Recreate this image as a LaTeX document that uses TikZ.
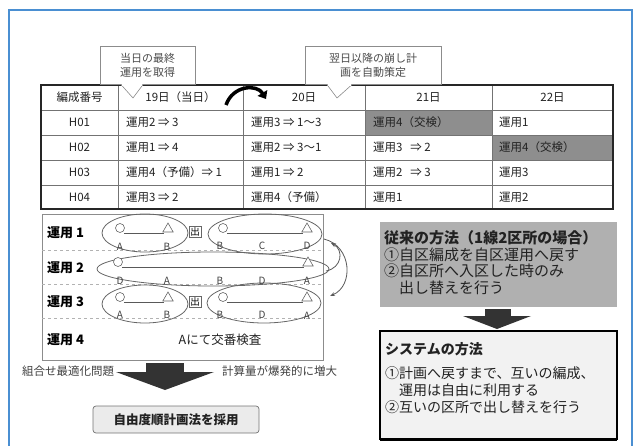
\documentclass[tikz,border=0pt]{standalone}
\usepackage{fontspec}
\setmainfont{Noto Sans CJK JP}
\usetikzlibrary{arrows.meta,shapes.geometric}
\newcommand{\myfs}[1]{\fontsize{#1}{#1}\selectfont}
\definecolor{framebl}{HTML}{4A8FD2}
\definecolor{cellgray}{HTML}{8E8E8E}
\definecolor{boxgray}{HTML}{B0B0B0}
\definecolor{txt}{HTML}{222222}
\begin{document}
\begin{tikzpicture}[x=1pt,y=-1pt,
  celltxt/.style={anchor=west, inner sep=0pt, font=\myfs{11.5}, text=txt},
  headtxt/.style={inner sep=0pt, font=\myfs{11.5}, text=txt},
  rowlbl/.style={anchor=west, inner sep=0pt, font=\bfseries\myfs{13}},
  stn/.style={inner sep=0pt, font=\myfs{10}, text=black!75},
  oval/.style={draw=black!60, line width=0.8pt},
  circsym/.style={circle, draw=black!60, line width=0.6pt, fill=white, minimum size=9pt, inner sep=0pt},
  trisym/.style={regular polygon, regular polygon sides=3, draw=black!60, line width=0.6pt, fill=white, minimum size=12pt, inner sep=0pt},
  rline/.style={draw=black!65, line width=1pt},
  callout/.style={draw=black!45, fill=white, line width=0.6pt},
  calltxt/.style={inner sep=0pt, align=center, font=\myfs{11}, text=black!70},
  blockarrow/.style={fill=black!80},
  rtxt/.style={anchor=west, inner sep=0pt, font=\myfs{14}, text=txt},
  gtxt/.style={anchor=west, inner sep=0pt, font=\myfs{15}, text=txt},
  sidetxt/.style={inner sep=0pt, font=\myfs{11.5}, text=black!75},
  swap/.style={draw=black!60, inner sep=1pt, font=\myfs{9.5}, fill=white},
  curv/.style={draw=black!65, line width=0.8pt, -{Stealth[length=5pt,width=4pt]}}
]
\useasboundingbox (0,0) rectangle (637,446);
% outer frame
\draw[framebl, line width=1.5pt] (9,446) -- (9,10) -- (632,10) -- (632,446);

% ---------- table ----------
\fill[cellgray] (365,110) rectangle (492,135);
\fill[cellgray] (492,135) rectangle (613,160);
\foreach \yy in {110,135,160,185} \draw[black!55, line width=0.6pt] (41,\yy) -- (613,\yy);
\foreach \xx in {118,243,365,492} \draw[black!55, line width=0.6pt] (\xx,85) -- (\xx,209);
\draw[black!85, line width=1.3pt] (41,85) rectangle (613,209);

\node[headtxt] (h0) at (79.5,97.5) {編成番号};
\node[headtxt] (h1) at (180.5,97.5) {19日（当日）};
\node[headtxt] (h2) at (304,97.5) {20日};
\node[headtxt] (h3) at (428.5,97.5) {21日};
\node[headtxt] (h4) at (552.5,97.5) {22日};

\node[headtxt] (r1) at (79.5,122.5) {H01};
\node[headtxt] (r2) at (79.5,147.5) {H02};
\node[headtxt] (r3) at (79.5,172.5) {H03};
\node[headtxt] (r4) at (79.5,197) {H04};

\node[celltxt] (a11) at (126,122.5) {運用2 ⇒ 3};
\node[celltxt] (a12) at (251,122.5) {運用3 ⇒ 1～3};
\node[celltxt] (a13) at (373,122.5) {運用4（交検）};
\node[celltxt] (a14) at (499,122.5) {運用1};

\node[celltxt] (a21) at (126,147.5) {運用1 ⇒ 4};
\node[celltxt] (a22) at (251,147.5) {運用2 ⇒ 3～1};
\node[celltxt] (a23) at (373,147.5) {運用3 \ \ ⇒ 2};
\node[celltxt] (a24) at (499,147.5) {運用4（交検）};

\node[celltxt] (a31) at (126,172.5) {運用4（予備）⇒ 1};
\node[celltxt] (a32) at (251,172.5) {運用1 ⇒ 2};
\node[celltxt] (a33) at (373,172.5) {運用2 \ \ ⇒ 3};
\node[celltxt] (a34) at (499,172.5) {運用3};

\node[celltxt] (a41) at (126,197) {運用3 ⇒ 2};
\node[celltxt] (a42) at (251,197) {運用4（予備）};
\node[celltxt] (a43) at (373,197) {運用1};
\node[celltxt] (a44) at (499,197) {運用2};

% curved arrow 19 -> 20
\draw[line width=3.5pt, -{Triangle[length=7pt,width=11pt]}] (226,105) .. controls (233,85) and (257,84) .. (266,99);

% ---------- callouts ----------
\draw[callout] (100,46) rectangle (195,84);
\draw[callout] (121,84.6) -- (133,98) -- (143,84.6);
\fill[white] (121.8,83.5) rectangle (142.2,85.8);
\node[calltxt] (c1) at (147.5,65) {当日の最終\\[3pt]運用を取得};

\draw[callout] (305,46) rectangle (441,84);
\draw[callout] (327,84.6) -- (337,98) -- (352,84.6);
\fill[white] (327.8,83.5) rectangle (351.2,85.8);
\node[calltxt] (c2) at (373,65) {翌日以降の崩し計\\[3pt]画を自動策定};

% ---------- lower-left diagram ----------
\draw[black!45, line width=0.6pt] (42,214) rectangle (323,360);
\foreach \yy in {250,284,318} \draw[black!30, dashed, line width=0.5pt] (42,\yy) -- (323,\yy);

\node[rowlbl] (u1) at (47,233) {運用 1};
\node[rowlbl] (u2) at (47,268) {運用 2};
\node[rowlbl] (u3) at (47,302) {運用 3};
\node[rowlbl] (u4) at (47,340) {運用 4};
\node[inner sep=0pt, font=\myfs{12.5}, text=txt] (kk) at (220,340) {Aにて交番検査};

% ovals
\draw[oval] (145,233) ellipse [x radius=43pt, y radius=19pt];
\draw[oval] (265,234) ellipse [x radius=57pt, y radius=20pt];
\draw[oval] (213,269) ellipse [x radius=116pt, y radius=17pt];
\draw[oval] (145,304) ellipse [x radius=43pt, y radius=19pt];
\draw[oval] (264,303) ellipse [x radius=57pt, y radius=20pt];

% row 1
\draw[rline] (124,234) -- (164,234);
\draw[rline] (227,234) -- (303,234);
\node[circsym] (p1) at (120,228) {};
\node[trisym] (q1) at (168,229) {};
\node[circsym] (p2) at (223,228) {};
\node[trisym] (q2) at (307,229) {};
\node[swap] (x1) at (195,232) {出};
\node[stn] (s11) at (120,247) {A};
\node[stn] (s12) at (167,247) {B};
\node[stn] (s13) at (220,246) {B};
\node[stn] (s14) at (262,246) {C};
\node[stn] (s15) at (307,246) {D};

% row 2
\draw[rline] (122,268) -- (304,268);
\node[circsym] (p3) at (118,262) {};
\node[trisym] (q3) at (308,263) {};
\node[stn] (s21) at (120,281) {D};
\node[stn] (s22) at (167,281) {A};
\node[stn] (s23) at (220,281) {B};
\node[stn] (s24) at (262,281) {D};
\node[stn] (s25) at (307,281) {A};

% row 3
\draw[rline] (124,303) -- (164,303);
\draw[rline] (227,303) -- (303,303);
\node[circsym] (p4) at (120,297) {};
\node[trisym] (q4) at (168,298) {};
\node[circsym] (p5) at (223,297) {};
\node[trisym] (q5) at (307,298) {};
\node[swap] (x2) at (195,302) {出};
\node[stn] (s31) at (120,315) {A};
\node[stn] (s32) at (167,315) {B};
\node[stn] (s33) at (220,315) {B};
\node[stn] (s34) at (262,315) {D};
\node[stn] (s35) at (307,316) {A};

% curved transfers at right
\coordinate (e1) at (324,239);
\coordinate (e3) at (330,296);
\coordinate (e2) at (326,271);
\coordinate (e1b) at (331,243);
\draw[curv] (e1) .. controls (352,246) and (354,286) .. (e3);
\draw[curv] (e2) .. controls (342,268) and (344,250) .. (e1b);

% ---------- bottom-left ----------
\node[sidetxt, anchor=west] (l1) at (22,371) {組合せ最適化問題};
\node[sidetxt, anchor=west] (l2) at (222,371) {計算量が爆発的に増大};
\fill[blockarrow] (146,363) rectangle (184,372);
\fill[blockarrow] (116,372) -- (214,372) -- (165,390) -- cycle;
\node[draw=black!55, fill=black!8, rounded corners=3pt, line width=0.7pt,
      minimum width=166pt, minimum height=27pt, inner sep=0pt,
      font=\bfseries\myfs{12.5}, text=txt] (fix) at (176,419.5) {自由度順計画法を採用};

% ---------- right side ----------
\fill[boxgray] (380,222) rectangle (617,307);
\node[gtxt, font=\bfseries\myfs{15}] (o0) at (384,238) {従来の方法（1線2区所の場合）};
\node[gtxt] (o1) at (384,254.5) {①自区編成を自区運用へ戻す};
\node[gtxt] (o2) at (384,271) {②自区所へ入区した時のみ};
\node[gtxt] (o3) at (384,287.5) {\hspace{15pt}出し替えを行う};

\fill[blockarrow] (485,309) rectangle (511,316);
\fill[blockarrow] (463,316) -- (531,316) -- (497,329) -- cycle;

\draw[black, line width=1.4pt, fill=black!5] (380,331) rectangle (617,439);
\draw[black, line width=3pt] (380,439.5) -- (617,439.5);
\node[rtxt, font=\bfseries\myfs{14}] (n0) at (385,349) {システムの方法};
\node[rtxt] (n1) at (385,373) {①計画へ戻すまで、互いの編成、};
\node[rtxt] (n2) at (385,390) {\hspace{14pt}運用は自由に利用する};
\node[rtxt] (n3) at (385,407) {②互いの区所で出し替えを行う};
\end{tikzpicture}
\end{document}
